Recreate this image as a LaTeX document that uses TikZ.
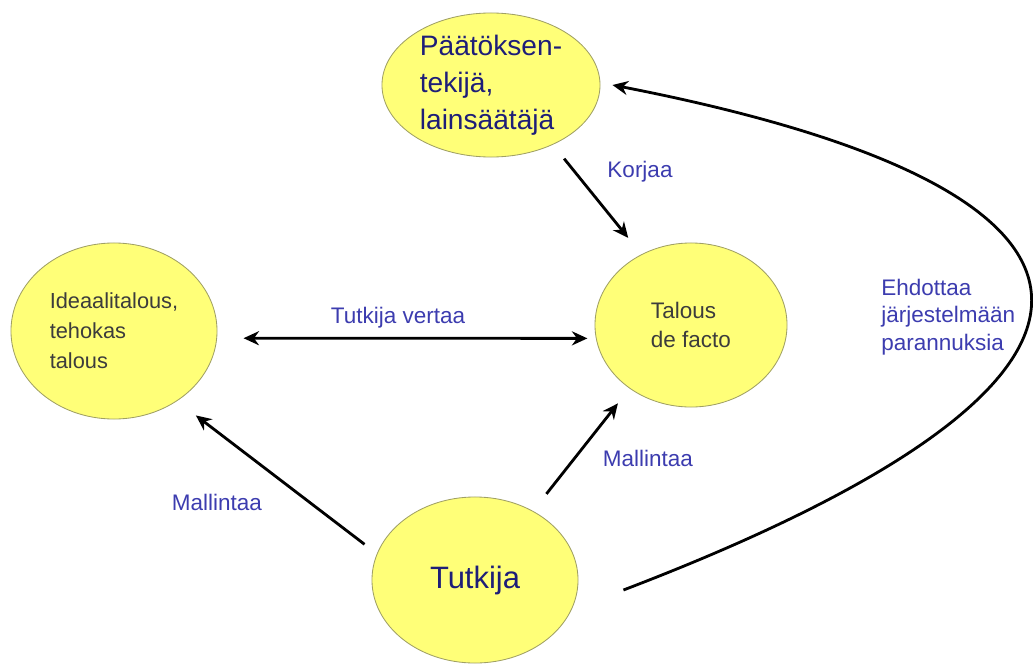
\documentclass[tikz,border=0pt]{standalone}
\usepackage{fontspec}
\setmainfont{Liberation Sans}
\usetikzlibrary{shapes.geometric,arrows.meta}
\definecolor{bubblefill}{RGB}{255,255,120}
\definecolor{bubblerim}{RGB}{160,160,100}
\definecolor{navy}{RGB}{30,30,120}
\definecolor{darktext}{RGB}{60,60,60}
\definecolor{linkblue}{RGB}{60,60,175}
\tikzset{>={Stealth[length=11pt,width=10pt]}}
\tikzset{
  bubble/.style={ellipse,fill=bubblefill,draw=bubblerim,line width=0.6pt,inner sep=0pt,align=left},
  link/.style={->,line width=2pt},
  linktext/.style={text=linkblue,font=\fontsize{16}{19.6}\selectfont,inner sep=0pt}
}

\begin{document}
\begin{tikzpicture}[x=0.025cm,y=-0.025cm]
  \useasboundingbox (0,0) rectangle (1033,664);
  % bubbles
  \node[bubble,minimum width=5.45cm,minimum height=3.6cm,text=navy,font=\fontsize{20}{26.3}\selectfont] (paattaja) at (491,85) {Päätöksen-\\tekijä,\\lainsäätäjä};
  \node[bubble,minimum width=5.15cm,minimum height=4.4cm,text=darktext,font=\fontsize{15.5}{21.3}\selectfont] (ideaali) at (114,331) {Ideaalitalous,\\tehokas\\talous};
  \node[bubble,minimum width=4.8cm,minimum height=4.1cm,text=darktext,font=\fontsize{16}{20}\selectfont] (defacto) at (691,325) {Talous\\de facto};
  \node[bubble,minimum width=5.15cm,minimum height=4.15cm,text=navy,font=\fontsize{22}{26}\selectfont] (tutkija) at (475,580) {Tutkija};
  % straight arrows
  \draw[link,shorten <=12.7pt,shorten >=15pt] (paattaja.-44) -- (defacto.125);
  \draw[link,<->,shorten <=18.8pt,shorten >=6pt] (ideaali.-4) -- (defacto.188);
  \draw[link,shorten <=11pt,shorten >=16.8pt] (tutkija.165) -- (ideaali.-48);
  \draw[link,shorten <=15.4pt,shorten >=13.4pt] (tutkija.50) -- (defacto.226);
  % feedback curve
  \draw[link] ([shift={(45,10)}]tutkija.east) .. controls (1168,382) and (1168,193) .. ([shift={(12,0)}]paattaja.east);
  % arrow labels
  \node[linktext] (korjaa) at (640,172) {Korjaa};
  \node[linktext] (vertaa) at (398,318) {Tutkija vertaa};
  \node[linktext] (mallivasen) at (217,502) {Mallintaa};
  \node[linktext] (malilioikea) at (648,458) {Mallintaa};
  \node[linktext,align=left,anchor=west] (ehdottaa) at (881,317) {Ehdottaa\\järjestelmään\\parannuksia};
\end{tikzpicture}
\end{document}
